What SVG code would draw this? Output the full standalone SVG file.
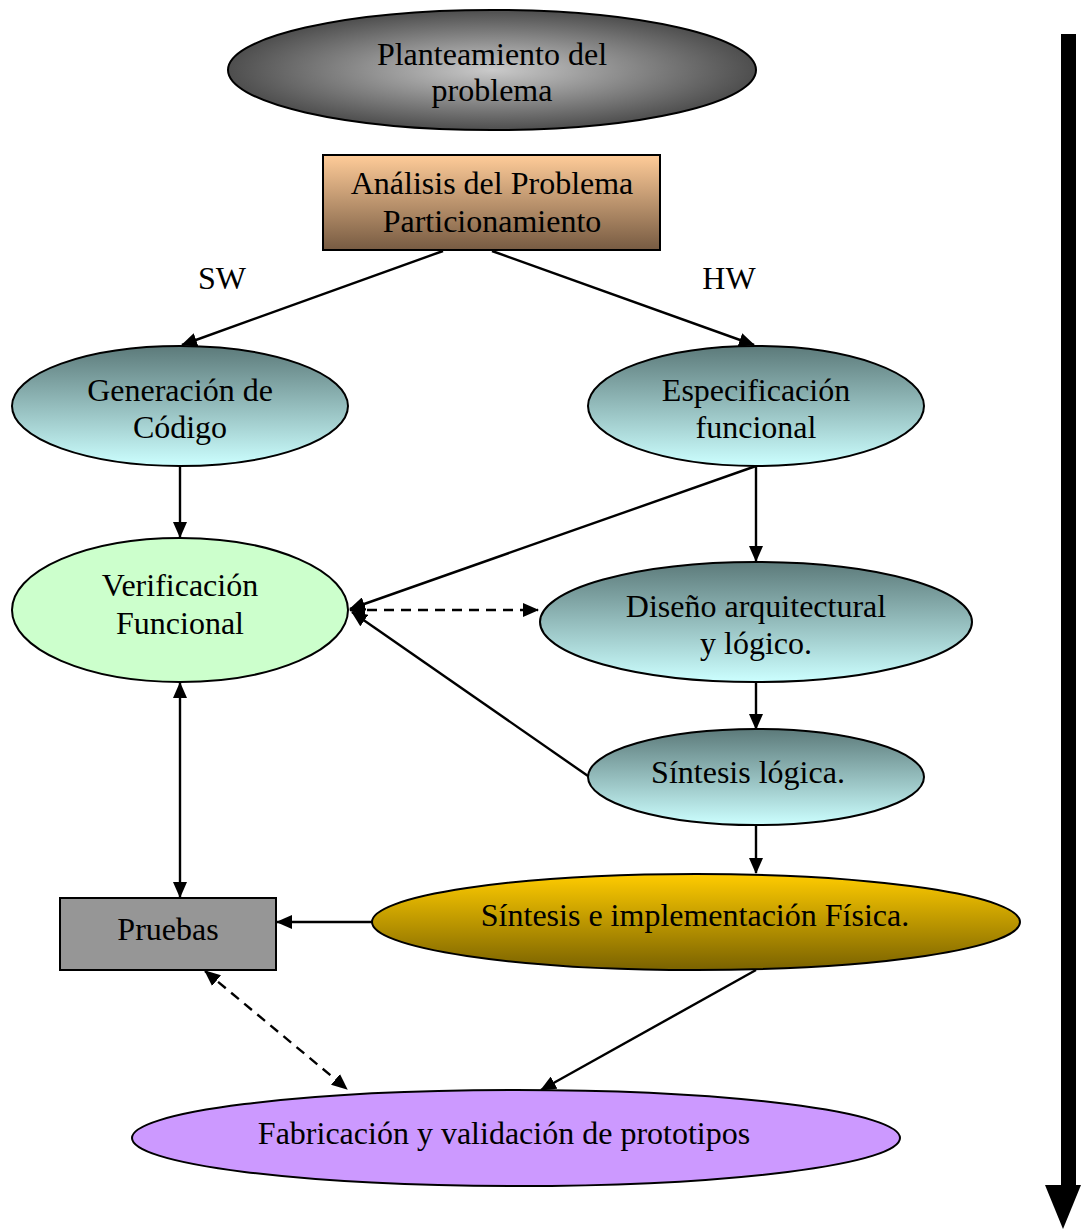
<svg xmlns="http://www.w3.org/2000/svg" width="1081" height="1230" viewBox="0 0 1081 1230">
<defs>
<radialGradient id="gGray" cx="50%" cy="50%" r="50%">
<stop offset="0" stop-color="#cacaca"/>
<stop offset="1" stop-color="#4e4e4e"/>
</radialGradient>
<linearGradient id="gBox" x1="0" y1="0" x2="0" y2="1">
<stop offset="0" stop-color="#ffcc99"/>
<stop offset="1" stop-color="#775b42"/>
</linearGradient>
<linearGradient id="gTeal" x1="0" y1="0" x2="0" y2="1">
<stop offset="0" stop-color="#5c7a7a"/>
<stop offset="1" stop-color="#ccffff"/>
</linearGradient>
<linearGradient id="gGold" x1="0" y1="0" x2="0" y2="1">
<stop offset="0" stop-color="#ffcc00"/>
<stop offset="1" stop-color="#7a6200"/>
</linearGradient>
<marker id="ah" markerUnits="userSpaceOnUse" markerWidth="16" markerHeight="14" refX="15" refY="7" orient="auto-start-reverse" viewBox="0 0 16 14">
<path d="M0,0 L16,7 L0,14 z" fill="#000"/>
</marker>
<style>
text{font-family:'Liberation Serif',serif;font-size:32px;fill:#000;text-anchor:middle}
.n{stroke:#000;stroke-width:2}
.c{stroke:#000;stroke-width:2.4;fill:none}
.d{stroke-dasharray:10 7}
</style>
</defs>

<g id="connectors">
<line class="c" x1="443" y1="251" x2="182" y2="345" marker-end="url(#ah)"/>
<line class="c" x1="492" y1="251" x2="754" y2="345" marker-end="url(#ah)"/>
<line class="c" x1="180" y1="466" x2="180" y2="537" marker-end="url(#ah)"/>
<line class="c" x1="756" y1="466" x2="756" y2="561" marker-end="url(#ah)"/>
<line class="c" x1="756" y1="466" x2="350" y2="609" marker-end="url(#ah)"/>
<line class="c d" x1="350" y1="610" x2="538" y2="610" marker-start="url(#ah)" marker-end="url(#ah)"/>
<line class="c" x1="756" y1="682" x2="756" y2="729" marker-end="url(#ah)"/>
<line class="c" x1="588" y1="776" x2="352" y2="612" marker-end="url(#ah)"/>
<line class="c" x1="756" y1="826" x2="756" y2="873" marker-end="url(#ah)"/>
<line class="c" x1="372" y1="922" x2="277" y2="922" marker-end="url(#ah)"/>
<line class="c" x1="180" y1="683" x2="180" y2="897" marker-start="url(#ah)" marker-end="url(#ah)"/>
<line class="c d" x1="205" y1="971" x2="347" y2="1089" marker-start="url(#ah)" marker-end="url(#ah)"/>
<line class="c" x1="756" y1="970" x2="541" y2="1090" marker-end="url(#ah)"/>
</g>

<g id="planteamiento">
<ellipse class="n" cx="492" cy="70" rx="264" ry="60" fill="url(#gGray)"/>
<text x="492" y="65">Planteamiento del</text>
<text x="492" y="101">problema</text>
</g>

<g id="analisis">
<rect class="n" x="323" y="155" width="337" height="95" fill="url(#gBox)"/>
<text x="492" y="194">Análisis del Problema</text>
<text x="492" y="232">Particionamiento</text>
</g>

<g id="labels">
<text x="222" y="289">SW</text>
<text x="729" y="289">HW</text>
</g>

<g id="generacion">
<ellipse class="n" cx="180" cy="406" rx="168" ry="60" fill="url(#gTeal)"/>
<text x="180" y="401">Generación de</text>
<text x="180" y="438">Código</text>
</g>

<g id="especificacion">
<ellipse class="n" cx="756" cy="406" rx="168" ry="60" fill="url(#gTeal)"/>
<text x="756" y="401">Especificación</text>
<text x="756" y="438">funcional</text>
</g>

<g id="verificacion">
<ellipse class="n" cx="180" cy="610" rx="168" ry="72" fill="#ccffcc"/>
<text x="180" y="596">Verificación</text>
<text x="180" y="634">Funcional</text>
</g>

<g id="diseno">
<ellipse class="n" cx="756" cy="622" rx="216" ry="60" fill="url(#gTeal)"/>
<text x="756" y="617">Diseño arquitectural</text>
<text x="756" y="654">y lógico.</text>
</g>

<g id="sintesis-logica">
<ellipse class="n" cx="756" cy="777" rx="168" ry="48" fill="url(#gTeal)"/>
<text x="748" y="783">Síntesis lógica.</text>
</g>

<g id="sintesis-fisica">
<ellipse class="n" cx="696" cy="922" rx="324" ry="48" fill="url(#gGold)"/>
<text x="695" y="926">Síntesis e implementación Física.</text>
</g>

<g id="pruebas">
<rect class="n" x="60" y="898" width="216" height="72" fill="#969696"/>
<text x="168" y="940">Pruebas</text>
</g>

<g id="fabricacion">
<ellipse class="n" cx="516" cy="1138" rx="384" ry="48" fill="#cc99ff"/>
<text x="504" y="1144">Fabricación y validación de prototipos</text>
</g>

<g id="flow-arrow">
<rect x="1061" y="34" width="15" height="1152" fill="#000"/>
<path d="M1045,1185 L1081,1185 L1063,1229 z" fill="#000"/>
</g>
</svg>
